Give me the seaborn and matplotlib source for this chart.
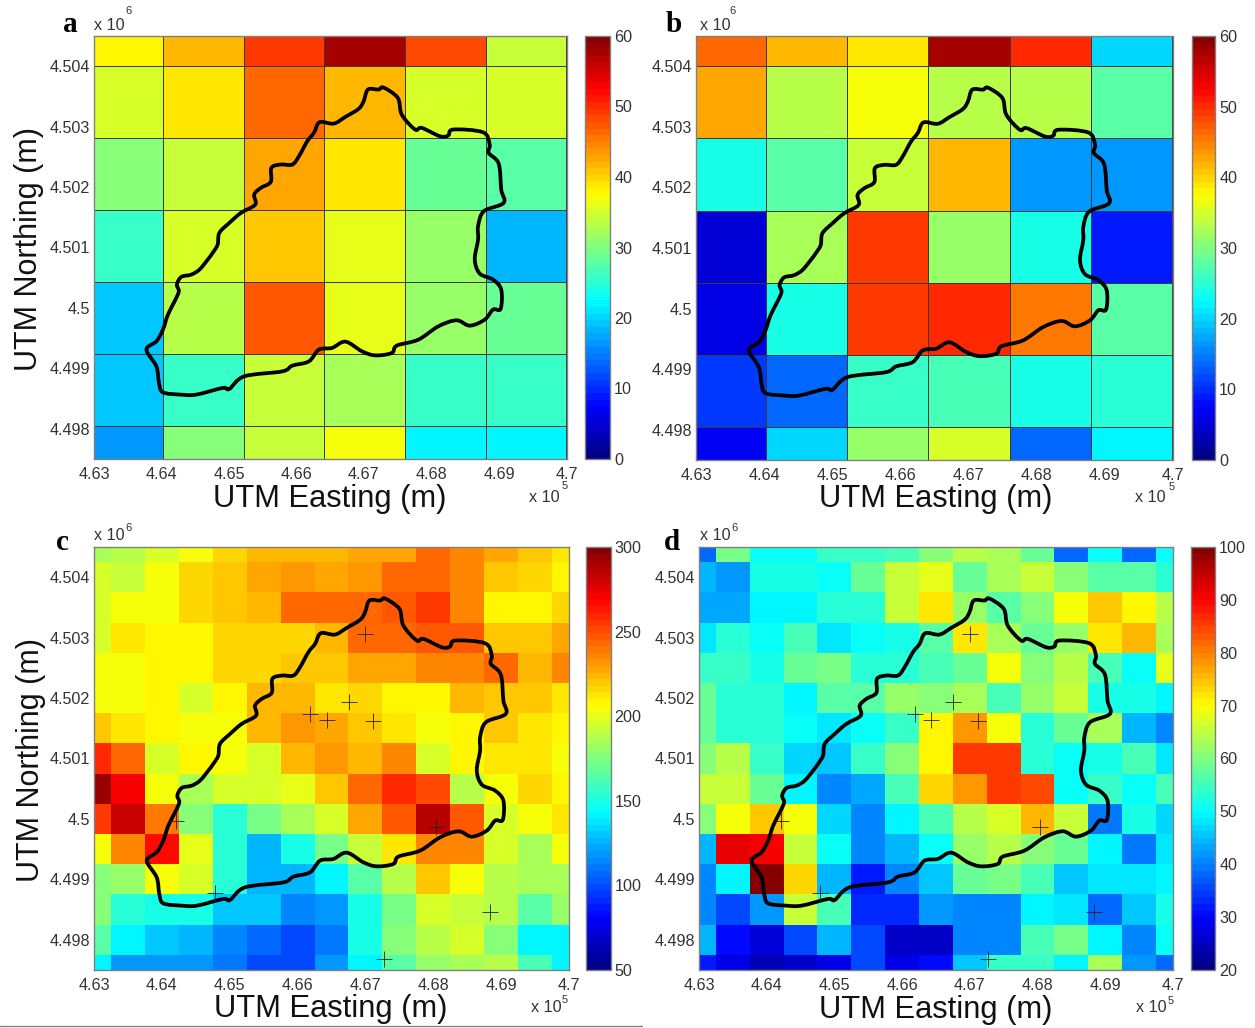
import numpy as np
import matplotlib
matplotlib.use("Agg")
import matplotlib.pyplot as plt
from matplotlib.colors import ListedColormap
from matplotlib.lines import Line2D
from matplotlib.patches import PathPatch
from matplotlib.path import Path
from matplotlib.transforms import Affine2D
import seaborn as sns

sns.set_theme(style="white")
plt.rcParams["font.family"] = ["Liberation Sans", "DejaVu Sans"]

W, H = 1255, 1028
TEXT = "#333333"
EDGE = "#808080"

values_a = [
    [38, 41.5, 49.5, 58, 48, 34],
    [35.5, 39, 46.8, 41.5, 35, 35],
    [30, 34.5, 42.6, 39, 29, 28],
    [26, 35.5, 41.2, 36, 31, 18],
    [19, 33, 47.4, 36, 31, 28.5],
    [19, 26, 34.5, 32, 26, 26],
    [16, 30, 34, 37, 22, 22],
]
values_b = [
    [46.5, 41.5, 39, 58, 50, 20],
    [43, 33, 37, 33, 33, 28],
    [24, 28, 34, 42, 16, 16],
    [5, 32, 49, 31, 24, 9],
    [6, 23.5, 49.5, 50, 45, 28],
    [11, 14, 26, 27, 24, 25],
    [7, 20, 31, 35, 14, 22],
]
values_c = [
    [183, 190, 195, 205, 215, 222, 222, 222, 229, 229, 242, 235, 227, 219, 212],
    [197, 192, 205, 215, 219, 227, 230, 227, 232, 242, 245, 237, 219, 217, 207],
    [197, 205, 205, 217, 221, 225, 242, 245, 245, 249, 254, 237, 210, 209, 215],
    [197, 212, 208, 208, 215, 215, 217, 225, 245, 245, 247, 247, 221, 219, 227],
    [205, 205, 208, 208, 217, 217, 219, 221, 229, 229, 234, 234, 242, 225, 237],
    [205, 205, 208, 198, 209, 225, 223, 212, 215, 209, 209, 222, 219, 219, 212],
    [219, 212, 210, 205, 205, 223, 233, 227, 219, 211, 205, 210, 219, 211, 210],
    [259, 242, 196, 210, 205, 197, 225, 231, 225, 237, 197, 207, 214, 211, 205],
    [293, 272, 204, 183, 195, 195, 200, 219, 242, 259, 252, 190, 205, 217, 208],
    [255, 282, 240, 175, 152, 172, 185, 195, 229, 247, 287, 247, 195, 205, 212],
    [203, 237, 266, 202, 152, 128, 150, 172, 192, 212, 235, 237, 197, 185, 205],
    [178, 180, 205, 195, 155, 125, 127, 140, 165, 188, 219, 205, 190, 185, 185],
    [175, 155, 150, 148, 130, 130, 113, 120, 150, 172, 197, 193, 190, 165, 180],
    [165, 143, 130, 125, 115, 105, 100, 112, 148, 178, 188, 197, 175, 140, 140],
    [140, 120, 120, 117, 112, 98, 97, 118, 140, 165, 182, 185, 188, 160, 140],
]
values_d = [
    [38, 59, 50, 50, 54, 54, 56, 60, 64, 63, 58, 38, 50, 38, 50],
    [44, 42, 52, 52, 50, 58, 65, 68, 58, 63, 65, 61, 57, 57, 53],
    [43, 43, 49, 49, 53, 53, 65, 72, 62, 57, 60, 69, 74, 71, 64],
    [48, 53, 51, 55, 48, 51, 52, 57, 72, 63, 58, 62, 72, 75, 63],
    [54, 54, 52, 58, 59, 53, 53, 55, 58, 69, 60, 64, 56, 51, 68],
    [58, 53, 53, 49, 57, 57, 62, 60, 63, 56, 62, 65, 52, 52, 49],
    [58, 53, 53, 50, 48, 50, 54, 71, 78, 69, 53, 58, 63, 44, 41],
    [60, 64, 54, 47, 45, 54, 60, 70, 86, 86, 53, 51, 52, 56, 48],
    [66, 66, 58.5, 49, 40, 43, 55, 73, 77.6, 86, 84, 51, 54, 51, 55],
    [60, 69, 74, 69, 47, 41, 49, 56, 64, 67, 75, 65, 39, 52, 47],
    [44, 92, 90, 66, 51, 41, 44, 50, 62, 64, 60, 58, 49, 39, 48],
    [40, 49, 99, 73, 44, 32, 41, 46, 58, 59, 55, 46, 48, 48, 49],
    [40, 35, 42, 66, 55, 33, 33, 42, 41, 40, 49, 48, 38, 45, 52],
    [44, 30, 27, 35, 44, 36, 25, 26, 40, 40, 55, 59, 49, 40, 50],
    [32, 28, 24, 25, 28, 36, 28, 31, 46, 54, 54, 49, 63, 42, 38],
]

catchment_e = [463777, 463924, 464021, 464095, 464194, 464257, 464228, 464293, 464440, 464562,
               464685, 464758, 464832, 464857, 465005, 465177, 465388, 465373, 465472, 465619,
               465628, 465767, 465938, 466036, 466159, 466258, 466342, 466552, 466725, 466921,
               466995, 467058, 467216, 467289, 467500, 467559, 467757, 467854, 468125, 468247,
               468321, 468763, 468862, 468847, 468995, 469033, 469068, 468774, 468690, 468690,
               468641, 468715, 468911, 469033, 469024, 468911, 468788, 468567, 468370, 468100,
               467805, 467485, 467412, 467167, 466970, 466725, 466527, 466331, 466184, 465938,
               465790, 465226, 465005, 464906, 464514, 464293, 464021, 463963, 463924, 463777]
catchment_n = [4499310, 4499447, 4499641, 4499889, 4500109, 4500275, 4500386, 4500513, 4500551, 4500634,
               4500800, 4500911, 4501048, 4501242, 4501407, 4501573, 4501710, 4501876, 4501987, 4502086,
               4502318, 4502373, 4502373, 4502510, 4502758, 4502897, 4503073, 4503051, 4503162, 4503295,
               4503421, 4503614, 4503614, 4503647, 4503477, 4503200, 4502952, 4502980, 4502841, 4502853,
               4502952, 4502907, 4502704, 4502566, 4502389, 4501959, 4501738, 4501599, 4501351, 4501131,
               4500800, 4500568, 4500469, 4500303, 4499984, 4499972, 4499806, 4499707, 4499795, 4499695,
               4499475, 4499376, 4499255, 4499215, 4499282, 4499442, 4499338, 4499310, 4499116, 4499045,
               4498950, 4498868, 4498659, 4498676, 4498565, 4498565, 4498603, 4498758, 4499033, 4499310]

station_e = [466995, 466184, 466430, 466754, 467117, 464209, 464784, 468037, 468837, 467275]
station_n = [4503063, 4501738, 4501644, 4501942, 4501628, 4499972, 4498775, 4499873, 4498465, 4497682]

easting_ticks = [463000, 464000, 465000, 466000, 467000, 468000, 469000, 470000]
easting_labels = ["4.63", "4.64", "4.65", "4.66", "4.67", "4.68", "4.69", "4.7"]
northing_ticks = [4498000, 4499000, 4500000, 4501000, 4502000, 4503000, 4504000]
northing_labels = ["4.498", "4.499", "4.5", "4.501", "4.502", "4.503", "4.504"]
xlabel = "UTM Easting (m)"
ylabel = "UTM Northing (m)"

fig = plt.figure(figsize=(W / 100, H / 100), dpi=100, facecolor="white")

# 64-level jet with the classic break points (yellow at 5/8)
_t = (np.arange(64) + 0.5) / 64
jet = ListedColormap(np.clip(np.column_stack([
    np.minimum(4 * _t - 1.5, -4 * _t + 4.5),
    np.minimum(4 * _t - 0.5, -4 * _t + 3.5),
    np.minimum(4 * _t + 0.5, -4 * _t + 2.5)]), 0, 1))


def rect(l, t, r, b):
    return [l / W, 1 - b / H, (r - l) / W, (b - t) / H]


def ftext(x, y, s, **kw):
    kw.setdefault("color", TEXT)
    kw.setdefault("va", "center")
    fig.text(x / W, 1 - y / H, s, **kw)


def smooth_outline(ex, ny):
    """Closed Path through the traced vertices, drawn with Bezier segments."""
    p = np.column_stack([ex[:-1], ny[:-1]]).astype(float)
    n = len(p)
    verts = [p[0]]
    codes = [Path.MOVETO]
    for i in range(n):
        a, b, c, d = p[(i - 1) % n], p[i], p[(i + 1) % n], p[(i + 2) % n]
        verts += [b + (c - a) / 6, c - (d - b) / 6, c]
        codes += [Path.CURVE4] * 3
    return Path(verts, codes)


def panel(values, box, cbox, vmin, vmax, cticks, grid, lines, stations, letter, letter_xy,
          top_xy, bot_xy, xlab_xy, ylab_xy=None):
    ax = fig.add_axes(rect(*box))
    cax = fig.add_axes(rect(*cbox))
    sns.heatmap(np.array(values, dtype=float), ax=ax, cbar_ax=cax, cmap=jet, vmin=vmin, vmax=vmax,
                xticklabels=False, yticklabels=False,
                linewidths=0.7 if lines else 0, linecolor="#3a3a3a",
                cbar_kws={"ticks": cticks})
    x0, y0, w, h = grid
    mesh = ax.collections[0]
    mesh.set_transform(Affine2D().scale(w, -h).translate(x0, y0) + ax.transData)
    ax.add_patch(PathPatch(smooth_outline(catchment_e, catchment_n), fill=False, edgecolor="black",
                           lw=2.7, joinstyle="round", zorder=4))
    if stations:
        ax.plot(station_e, station_n, ls="none", marker="+", ms=12, mew=0.6,
                color="#222222", zorder=5)
    ax.set_xlim(463000, 470000)
    ax.set_ylim(4497500, 4504500)
    ax.set_xticks(easting_ticks, easting_labels)
    ax.set_yticks(northing_ticks, northing_labels)
    ax.tick_params(axis="both", direction="in", length=2.5, width=0.7, color="#555555",
                   labelsize=11.6, labelcolor=TEXT, top=True, right=True, bottom=True, left=True)
    ax.tick_params(axis="x", pad=5.5)
    ax.tick_params(axis="y", pad=3)
    for s in ax.spines.values():
        s.set_visible(True)
        s.set_color(EDGE)
        s.set_linewidth(1)
    l, t, r, b = box
    ax.set_xlabel(xlabel, fontsize=22.2, color="#111111", va="center")
    ax.xaxis.set_label_coords((xlab_xy[0] - l) / (r - l), (b - xlab_xy[1]) / (b - t))
    if ylab_xy:
        ax.set_ylabel(ylabel, fontsize=22, color="#111111", va="center")
        ax.yaxis.set_label_coords((ylab_xy[0] - l) / (r - l), (b - ylab_xy[1]) / (b - t))
    cb = mesh.colorbar
    cb.outline.set_visible(True)
    cb.outline.set_edgecolor(EDGE)
    cb.outline.set_linewidth(1)
    cax.tick_params(direction="in", length=2.5, width=0.7, color="#555555", labelsize=11.6,
                    labelcolor=TEXT, left=True, right=True, pad=3)
    fig.text(letter_xy[0] / W, 1 - letter_xy[1] / H, letter, family="Liberation Serif",
             weight="bold", fontsize=21, color="black", ha="center", va="center")
    ftext(top_xy[0], top_xy[1], "x 10", fontsize=11.6, ha="left")
    ftext(top_xy[2], top_xy[3], "6", fontsize=8, ha="center")
    ftext(bot_xy[0], bot_xy[1], "x 10", fontsize=11.6, ha="left")
    ftext(bot_xy[2], bot_xy[3], "5", fontsize=8, ha="center")


coarse = (462828, 4505192, 1195, 1192)
fine = (462750, 4504750, 500, 500)
panel(values_a, (94, 36, 566.5, 459), (585, 36, 610, 459), 0, 60, list(range(0, 61, 10)), coarse, True, False,
      "a", (70, 25), (94, 25, 129, 11), (529, 498, 565, 486), (330, 499), (29, 249))
panel(values_b, (696, 36, 1172.5, 460), (1192, 36, 1215, 460), 0, 60, list(range(0, 61, 10)), coarse, True, False,
      "b", (674, 25), (700, 25, 733, 11), (1135, 498, 1172, 487), (936, 499))
panel(values_c, (94, 547, 569, 970), (586, 547, 610.5, 970), 50, 300, list(range(50, 301, 50)), fine, False, True,
      "c", (62, 543), (94, 536, 129, 528), (531, 1008, 565, 1000), (331, 1009), (31, 760))
panel(values_d, (699, 547, 1173, 970), (1191, 547, 1215, 970), 20, 100, list(range(20, 101, 10)), fine, False, True,
      "d", (672, 543), (700, 536, 735, 528), (1136, 1008, 1171, 1001), (936, 1010))

fig.add_artist(Line2D([0, 642 / W], [1 - 1026 / H, 1 - 1026 / H], color="#808080", lw=1,
                      transform=fig.transFigure))
fig.savefig("out.png", dpi=100, facecolor="white")
